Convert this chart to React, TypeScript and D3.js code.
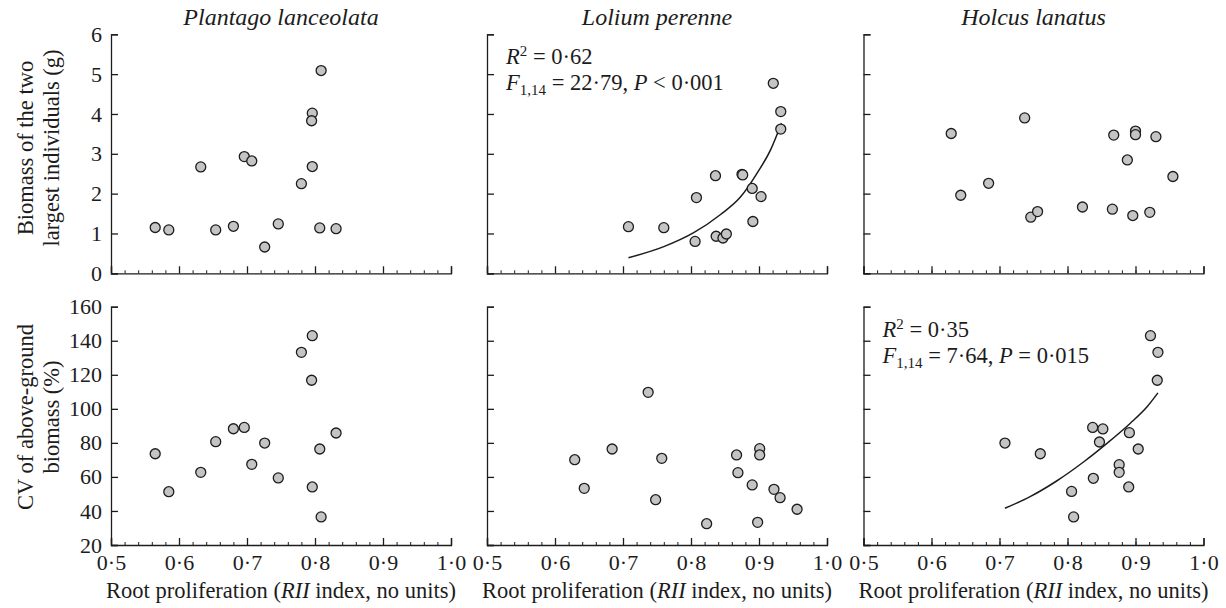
import * as d3 from "d3";
import { useRef, useEffect } from "react";

const W = 1226;
const H = 608;
const FONT = "'Liberation Serif', 'Times New Roman', serif";
const INK = "#1c1c1c";

// panel frames (px)
const colLeft = [111, 487, 863.5];
const panelW = 340;
const rowTop = [34.3, 306.7];
const rowBottom = [273.3, 545];

const species = ["Plantago lanceolata", "Lolium perenne", "Holcus lanatus"];
const xTicks = [0.5, 0.6, 0.7, 0.8, 0.9, 1.0];
const biomassTicks = [0, 1, 2, 3, 4, 5, 6];
const cvTicks = [20, 40, 60, 80, 100, 120, 140, 160];

// top row: biomass of the two largest individuals (g)
const plantagoRII = [0.565, 0.585, 0.632, 0.654, 0.68, 0.696, 0.707, 0.726, 0.746, 0.78, 0.796, 0.795, 0.796, 0.809, 0.807, 0.831];
const plantagoBiomass = [1.15, 1.09, 2.67, 1.09, 1.18, 2.93, 2.82, 0.66, 1.24, 2.25, 4.02, 3.83, 2.68, 5.09, 1.14, 1.12];

const loliumRII = [0.708, 0.76, 0.806, 0.808, 0.836, 0.837, 0.847, 0.852, 0.875, 0.876, 0.89, 0.891, 0.903, 0.921, 0.932, 0.932];
const loliumBiomass = [1.17, 1.145, 0.8, 1.9, 2.45, 0.93, 0.886, 0.987, 2.485, 2.47, 2.13, 1.3, 1.925, 4.77, 4.06, 3.62];

const holcusRII = [0.629, 0.643, 0.684, 0.737, 0.746, 0.756, 0.822, 0.868, 0.866, 0.888, 0.9, 0.9, 0.896, 0.921, 0.93, 0.955];
const holcusBiomass = [3.51, 1.96, 2.26, 3.9, 1.41, 1.55, 1.665, 3.47, 1.61, 2.845, 3.57, 3.48, 1.45, 1.53, 3.43, 2.43];

// bottom row: CV of above-ground biomass (%)
const plantagoCV = [73.6, 51.3, 62.7, 80.7, 88.3, 89.1, 67.4, 79.9, 59.4, 133.2, 143, 116.8, 54.1, 36.5, 76.4, 85.8];

const loliumCvRII = [0.629, 0.643, 0.684, 0.737, 0.757, 0.748, 0.823, 0.867, 0.869, 0.89, 0.901, 0.901, 0.898, 0.922, 0.931, 0.956];
const loliumCV = [70.1, 53.3, 76.4, 109.7, 70.9, 46.6, 32.5, 72.9, 62.5, 55.3, 76.6, 72.9, 33.3, 52.7, 47.8, 41];

const holcusCvRII = [0.708, 0.76, 0.806, 0.809, 0.837, 0.838, 0.847, 0.852, 0.876, 0.876, 0.891, 0.89, 0.904, 0.922, 0.933, 0.932];
const holcusCV = [79.9, 73.6, 51.5, 36.5, 89.1, 59.2, 80.5, 88.2, 67.2, 62.7, 86, 54.1, 76.4, 143, 133.2, 116.8];

// fitted curves
const loliumFitX = [0.708, 0.76, 0.804, 0.843, 0.873, 0.897, 0.917, 0.933];
const loliumFitY = [0.39, 0.67, 1.02, 1.47, 1.92, 2.51, 3.1, 3.77];
const holcusFitX = [0.708, 0.745, 0.784, 0.824, 0.858, 0.892, 0.917, 0.933];
const holcusFitY = [41.6, 48.4, 57.6, 68.9, 79.7, 91.4, 101.2, 109.4];

type Panel = {
  row: number;
  col: number;
  xs: number[];
  ys: number[];
  fitX?: number[];
  fitY?: number[];
  stats?: { r2: string; f: string; p: string };
};

const panels: Panel[] = [
  { row: 0, col: 0, xs: plantagoRII, ys: plantagoBiomass },
  { row: 0, col: 1, xs: loliumRII, ys: loliumBiomass, fitX: loliumFitX, fitY: loliumFitY,
    stats: { r2: "0·62", f: "22·79", p: "< 0·001" } },
  { row: 0, col: 2, xs: holcusRII, ys: holcusBiomass },
  { row: 1, col: 0, xs: plantagoRII, ys: plantagoCV },
  { row: 1, col: 1, xs: loliumCvRII, ys: loliumCV },
  { row: 1, col: 2, xs: holcusCvRII, ys: holcusCV, fitX: holcusFitX, fitY: holcusFitY,
    stats: { r2: "0·35", f: "7·64", p: "= 0·015" } },
];

const dot = (s: string) => s.replace(".", "·");

export default function App() {
  const svgRef = useRef<SVGSVGElement>(null);

  useEffect(() => {
    const svg = d3.select(svgRef.current);
    svg.selectAll("*").remove();

    panels.forEach((p) => {
      const x0 = colLeft[p.col];
      const x = d3.scaleLinear().domain([0.5, 1.0]).range([x0, x0 + panelW]);
      const y = p.row === 0
        ? d3.scaleLinear().domain([0, 6]).range([rowBottom[0], rowTop[0]])
        : d3.scaleLinear().domain([20, 160]).range([rowBottom[1], rowTop[1]]);
      const yTicks = p.row === 0 ? biomassTicks : cvTicks;
      const g = svg.append("g");

      // minor x ticks
      g.append("g")
        .attr("transform", `translate(0,${y.range()[0]})`)
        .call(d3.axisBottom(x).tickValues(d3.range(0.52, 1.0, 0.02)).tickSize(-3).tickFormat(() => ""))
        .call((a) => a.select(".domain").remove())
        .attr("color", INK);

      const xAxis = d3.axisBottom(x)
        .tickValues(xTicks)
        .tickSizeInner(-7)
        .tickSizeOuter(-7)
        .tickPadding(9)
        .tickFormat((d) => (p.row === 1 ? dot(d3.format(".1f")(d as number)) : ""));
      g.append("g")
        .attr("transform", `translate(0,${y.range()[0]})`)
        .call(xAxis)
        .attr("color", INK)
        .attr("font-family", FONT)
        .attr("font-size", 22)
        .call((a) => a.selectAll("path, line").attr("stroke-width", 1.3));

      const yAxis = d3.axisLeft(y)
        .tickValues(yTicks)
        .tickSizeInner(-7)
        .tickSizeOuter(-7)
        .tickPadding(9)
        .tickFormat((d) => (p.col === 0 ? String(d) : ""));
      g.append("g")
        .attr("transform", `translate(${x0},0)`)
        .call(yAxis)
        .attr("color", INK)
        .attr("font-family", FONT)
        .attr("font-size", 22)
        .call((a) => a.selectAll("path, line").attr("stroke-width", 1.3));

      if (p.fitX && p.fitY) {
        const pts: [number, number][] = p.fitX.map((v, i) => [v, p.fitY![i]]);
        g.append("path")
          .attr("d", d3.line<[number, number]>()
            .x((d) => x(d[0]))
            .y((d) => y(d[1]))
            .curve(d3.curveMonotoneX)(pts))
          .attr("fill", "none")
          .attr("stroke", INK)
          .attr("stroke-width", 1.5);
      }

      g.append("g")
        .selectAll("circle")
        .data(p.xs.map((v, i) => [v, p.ys[i]]))
        .join("circle")
        .attr("cx", (d) => x(d[0]))
        .attr("cy", (d) => y(d[1]))
        .attr("r", 5)
        .attr("fill", "#c4c4c4")
        .attr("stroke", INK)
        .attr("stroke-width", 1.3);

      if (p.stats) {
        const tx = x0 + 19;
        const ty = y.range()[1] + 30;
        const t1 = g.append("text").attr("x", tx).attr("y", ty)
          .attr("font-family", FONT).attr("font-size", 22.5).attr("fill", INK);
        t1.append("tspan").attr("font-style", "italic").text("R");
        t1.append("tspan").attr("font-size", 15).attr("dy", -8).text("2");
        t1.append("tspan").attr("dy", 8).text(` = ${p.stats.r2}`);

        const t2 = g.append("text").attr("x", tx).attr("y", ty + 26)
          .attr("font-family", FONT).attr("font-size", 22.5).attr("fill", INK);
        t2.append("tspan").attr("font-style", "italic").text("F");
        t2.append("tspan").attr("font-size", 15).attr("dy", 5).text("1,14");
        t2.append("tspan").attr("dy", -5).text(` = ${p.stats.f}, `);
        t2.append("tspan").attr("font-style", "italic").text("P");
        t2.append("tspan").text(` ${p.stats.p}`);
      }

      if (p.row === 0) {
        svg.append("text")
          .attr("x", x0 + panelW / 2)
          .attr("y", 25)
          .attr("text-anchor", "middle")
          .attr("font-family", FONT)
          .attr("font-size", 24)
          .attr("font-style", "italic")
          .attr("fill", INK)
          .text(species[p.col]);
      } else {
        const t = svg.append("text")
          .attr("x", x0 + panelW / 2)
          .attr("y", 598)
          .attr("text-anchor", "middle")
          .attr("font-family", FONT)
          .attr("font-size", 22.5)
          .attr("fill", INK);
        t.append("tspan").text("Root proliferation (");
        t.append("tspan").attr("font-style", "italic").text("RII");
        t.append("tspan").text(" index, no units)");
      }
    });

    // y axis titles
    const yTitles = [
      { cy: 148, lines: ["Biomass of the two", "largest individuals (g)"] },
      { cy: 417, lines: ["CV of above-ground", "biomass (%)"] },
    ];
    yTitles.forEach((t) => {
      t.lines.forEach((line, i) => {
        svg.append("text")
          .attr("transform", `translate(${33 + i * 26},${t.cy}) rotate(-90)`)
          .attr("text-anchor", "middle")
          .attr("font-family", FONT)
          .attr("font-size", 22.5)
          .attr("fill", INK)
          .text(line);
      });
    });
  }, []);

  return (
    <div style={{ position: "absolute", left: 0, top: 0, background: "#fff" }}>
      <svg ref={svgRef} width={W} height={H} />
    </div>
  );
}
